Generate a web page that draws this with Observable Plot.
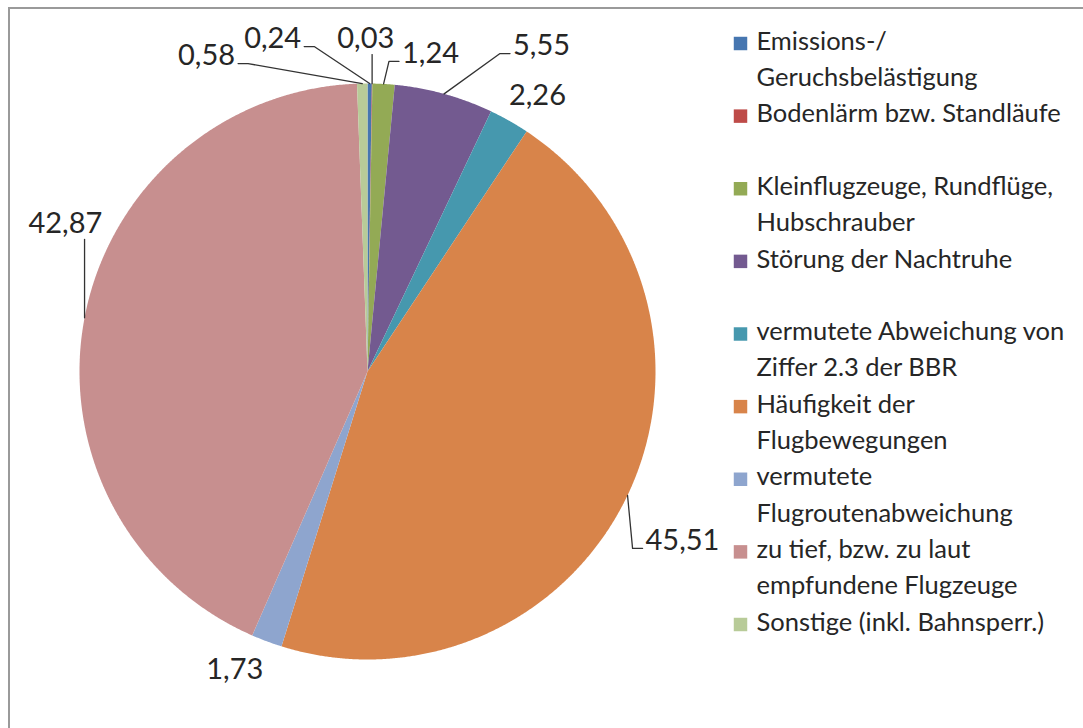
<!DOCTYPE html>
<html>
<head>
<meta charset="utf-8">
<script src="https://cdn.jsdelivr.net/npm/d3@7"></script>
<script src="https://cdn.jsdelivr.net/npm/@observablehq/plot@0.6"></script>
<style>
  html, body { margin: 0; padding: 0; background: #fff; overflow: hidden; }
  #wrap { position: relative; width: 1083px; height: 728px; }
  #wrap svg { position: absolute; }
  #frame { position: absolute; left: 8px; top: 7px; width: 1200px; height: 900px;
           border-top: 2px solid #9a9a9a; border-left: 2px solid #9a9a9a; pointer-events: none; }
</style>
</head>
<body>
<div id="wrap"><div id="frame"></div></div>
<script>
// ---- data ----
const categories = [
  "Emissions-/ Geruchsbelästigung",
  "Bodenlärm bzw. Standläufe",
  "Kleinflugzeuge, Rundflüge, Hubschrauber",
  "Störung der Nachtruhe",
  "vermutete Abweichung von Ziffer 2.3 der BBR",
  "Häufigkeit der Flugbewegungen",
  "vermutete Flugroutenabweichung",
  "zu tief, bzw. zu laut empfundene Flugzeuge",
  "Sonstige (inkl. Bahnsperr.)"
];
const values = [0.24, 0.03, 1.24, 5.55, 2.26, 45.51, 1.73, 42.87, 0.58];
const legendLines = [
  ["Emissions-/", "Geruchsbelästigung"],
  ["Bodenlärm bzw. Standläufe"],
  ["Kleinflugzeuge, Rundflüge,", "Hubschrauber"],
  ["Störung der Nachtruhe"],
  ["vermutete Abweichung von", "Ziffer 2.3 der BBR"],
  ["Häufigkeit der", "Flugbewegungen"],
  ["vermutete", "Flugroutenabweichung"],
  ["zu tief, bzw. zu laut", "empfundene Flugzeuge"],
  ["Sonstige (inkl. Bahnsperr.)"]
];
const colors = ["#4676B0", "#BE4B48", "#93AA55", "#735A90", "#4698AE", "#D8844A", "#8EA5CE", "#C78F8F", "#B8CB98"];

// ---- label layout (polar: angle clockwise from top in degrees, radius in pie radii) ----
const labelAngle  = [344.1, 359.7, 11.2, 28.1, 31.6, 118.2, 204.0, 296.1, 333.0];
const labelRadius = [1.202, 1.156, 1.126, 1.283, 1.126, 1.241, 1.133, 1.168, 1.231];
const hasLeader   = [true, true, true, true, false, true, false, true, true];

// ---- geometry ----
const W = 1083, H = 728;
const CX = 367, CY = 371, R = 288;
const labelFont = 29, legendFont = 25.5;
const fontFamily = "Lato, 'Open Sans', sans-serif";
const textColor = "#262626";

const rad = d => d * Math.PI / 180;
const polar = (deg, r) => ({x: r * Math.sin(rad(deg)), y: r * Math.cos(rad(deg))});
const toPx = p => ({x: CX + p.x * R, y: CY - p.y * R});
const toData = p => ({x: (p.x - CX) / R, y: (CY - p.y) / R});

const total = d3.sum(values);
let acc = 0;
const slices = categories.map((name, i) => {
  const a0 = acc / total * 360;
  acc += values[i];
  const a1 = acc / total * 360;
  return {name, value: values[i], a0, a1, mid: (a0 + a1) / 2, i};
});

// slice polygons
const slicePts = [];
for (const s of slices) {
  slicePts.push({name: s.name, ...polar(0, 0)});
  const n = Math.max(2, Math.ceil((s.a1 - s.a0) / 0.25));
  for (let k = 0; k <= n; k++) {
    slicePts.push({name: s.name, ...polar(s.a0 + (s.a1 - s.a0) * k / n, 1)});
  }
  slicePts.push({name: s.name, ...polar(0, 0)});
}

// labels
const fmt = v => v.toFixed(2).replace(".", ",");
const ctx = document.createElement("canvas").getContext("2d");
ctx.font = `${labelFont}px Lato`;
const labels = slices.map(s => {
  const p = polar(labelAngle[s.i], labelRadius[s.i]);
  return {text: fmt(s.value), ...p, s};
});

// leader lines
const leaders = [];
labels.forEach(l => {
  if (!hasLeader[l.s.i]) return;
  const e = toPx(polar(l.s.mid, 1));
  const c = toPx(l);
  const hw = ctx.measureText(l.text).width / 2;
  let pts;
  if (Math.abs(e.x - c.x) < hw) {
    pts = [{x: e.x, y: c.y + 16}, e];
  } else if (e.x > c.x) {
    pts = [{x: c.x + hw + 3, y: c.y + 8}, {x: c.x + hw + 13, y: c.y + 8}, e];
  } else {
    pts = [{x: c.x - hw - 3, y: c.y + 8}, {x: c.x - hw - 13, y: c.y + 8}, e];
  }
  pts.forEach(p => leaders.push({id: l.s.i, ...toData(p)}));
});

const pie = Plot.plot({
  width: W, height: H,
  margin: 0,
  style: {background: "transparent"},
  x: {domain: [-CX / R, (W - CX) / R], range: [0, W], axis: null},
  y: {domain: [(CY - H) / R, CY / R], range: [H, 0], axis: null},
  color: {domain: categories, range: colors},
  marks: [
    Plot.line(slicePts, {x: "x", y: "y", z: "name", fill: "name", stroke: null, curve: "linear"}),
    Plot.line(leaders, {x: "x", y: "y", z: "id", stroke: "#333", strokeWidth: 1.3}),
    Plot.text(labels, {x: "x", y: "y", text: "text", fontSize: labelFont, fontFamily,
                       fill: textColor, textAnchor: "middle", lineAnchor: "middle"})
  ]
});
pie.style.left = "0px"; pie.style.top = "0px";
document.getElementById("wrap").appendChild(pie);

// legend
const legendRows = [];
const legendKeys = [];
legendLines.forEach((lines, i) => {
  legendKeys.push({name: categories[i], row: i * 2});
  lines.forEach((t, j) => legendRows.push({t, row: i * 2 + j}));
});
const legend = Plot.plot({
  width: 358, height: 680,
  margin: 0,
  style: {background: "transparent"},
  x: {axis: null},
  y: {domain: [0, 16], range: [41, 622], axis: null},
  color: {domain: categories, range: colors},
  marks: [
    Plot.dot(legendKeys, {y: "row", frameAnchor: "left", dx: 15, dy: 2, symbol: "square", r: 7.6, fill: "name", stroke: null}),
    Plot.text(legendRows, {y: "row", text: "t", frameAnchor: "left", dx: 31, textAnchor: "start",
                           lineAnchor: "middle", fontSize: legendFont, fontFamily, fill: textColor})
  ]
});
legend.style.left = "725px"; legend.style.top = "0px";
document.getElementById("wrap").appendChild(legend);
</script>
</body>
</html>
